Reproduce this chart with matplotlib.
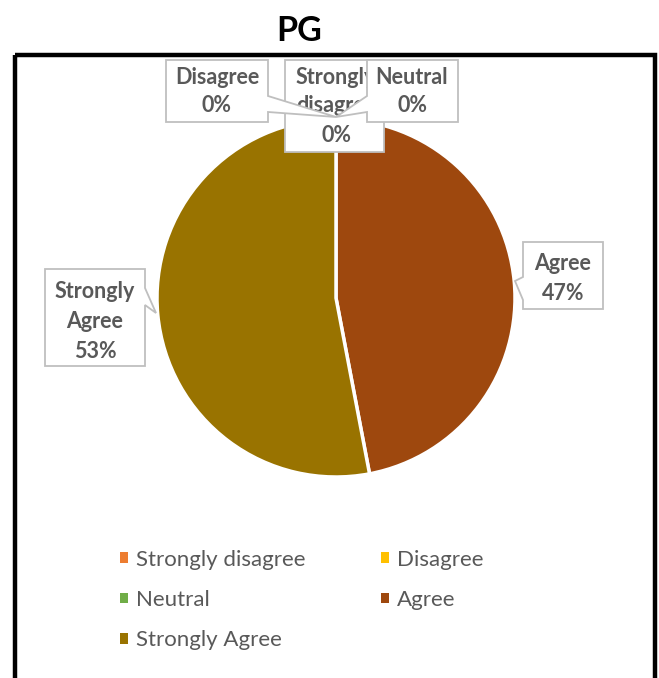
import matplotlib
matplotlib.use("Agg")
import matplotlib.pyplot as plt
from matplotlib.patches import Patch, Polygon, Rectangle

# ---- data ----
categories = ["Strongly disagree", "Disagree", "Neutral", "Agree", "Strongly Agree"]
values = [0, 0, 0, 47, 53]
colors = ["#ED7D31", "#FFC000", "#70AD47", "#9E480E", "#997300"]
title = "PG"

W, H = 659, 678
fig = plt.figure(figsize=(W / 100, H / 100), dpi=100)

LBL = "#595959"
FONT = "Lato"
FS = 15.5

# pie axes: center (336, 298), radius 179 px
cx, cy, r = 336, 298, 179
ax = fig.add_axes([(cx - r) / W, 1 - (cy + r) / H, 2 * r / W, 2 * r / H])
wedges, _ = ax.pie(values, colors=colors, startangle=90, counterclock=False,
                   wedgeprops=dict(edgecolor="white", linewidth=2.5))
ax.set_xlim(-1, 1)
ax.set_ylim(-1, 1)
ax.set_aspect("auto")
ax.axis("off")

# overlay in pixel coordinates
ov = fig.add_axes([0, 0, 1, 1], zorder=5)
ov.set_xlim(0, W)
ov.set_ylim(H, 0)
ov.axis("off")
ov.patch.set_alpha(0)

# chart border
ov.add_patch(Rectangle((15, 55), 640, 640, fill=False, edgecolor="black", lw=3.2, zorder=1))
fig.text(299 / W, 1 - 31 / H, title, ha="center", va="center", fontsize=24.5,
         fontweight="bold", family=FONT)

total = sum(values)
pct = [f"{round(100 * v / total)}%" for v in values]

EC = "#BFBFBF"
DY = 2

def callout(poly, z):
    ov.add_patch(Polygon(poly, closed=True, facecolor="white", edgecolor=EC, lw=1.3, zorder=z))

def lbl(x, y, s, z):
    ov.text(x, y + DY, s, ha="center", va="center", fontsize=FS, fontweight="bold",
            color=LBL, family=FONT, zorder=z)

# Strongly disagree (behind)
callout([(285, 60), (384, 60), (384, 152), (285, 152)], 2)
lbl(336, 76, "Strongly", 2.5)
lbl(336, 104, "disagree", 2.5)
lbl(336, 133, pct[0], 2.5)

# Disagree
callout([(166, 60), (268, 60), (268, 96), (336, 117), (268, 112), (268, 122), (166, 122)], 3)
lbl(217, 76, categories[1], 3.5)
lbl(217, 104, pct[1], 3.5)

# Neutral
callout([(367, 60), (458, 60), (458, 122), (367, 122), (367, 112), (336, 117), (367, 96)], 3)
lbl(412, 76, categories[2], 3.5)
lbl(412, 104, pct[2], 3.5)

# Agree
callout([(523, 242), (603, 242), (603, 309), (523, 309), (523, 300), (515, 281), (523, 277)], 3)
lbl(563, 262, categories[3], 3.5)
lbl(563, 291, pct[3], 3.5)

# Strongly Agree
callout([(45, 269), (145, 269), (145, 288), (156, 313), (145, 305), (145, 366), (45, 366)], 3)
lbl(95, 290, "Strongly", 3.5)
lbl(95, 320, "Agree", 3.5)
lbl(95, 349, pct[4], 3.5)

# legend (row-major order like reference)
order = [0, 2, 4, 1, 3]
handles = [Patch(facecolor=colors[i], edgecolor="none") for i in order]
labels = [categories[i] for i in order]
leg = fig.legend(handles, labels, ncol=2, loc="upper left",
                 bbox_to_anchor=(120 / W, 1 - 549.5 / H), frameon=False,
                 prop=dict(family=FONT, size=16), labelcolor=LBL,
                 handlelength=0.36, handleheight=0.36, handletextpad=0.36,
                 labelspacing=0.92, columnspacing=3.4, borderpad=0, borderaxespad=0)

fig.savefig("out.png", dpi=100)
